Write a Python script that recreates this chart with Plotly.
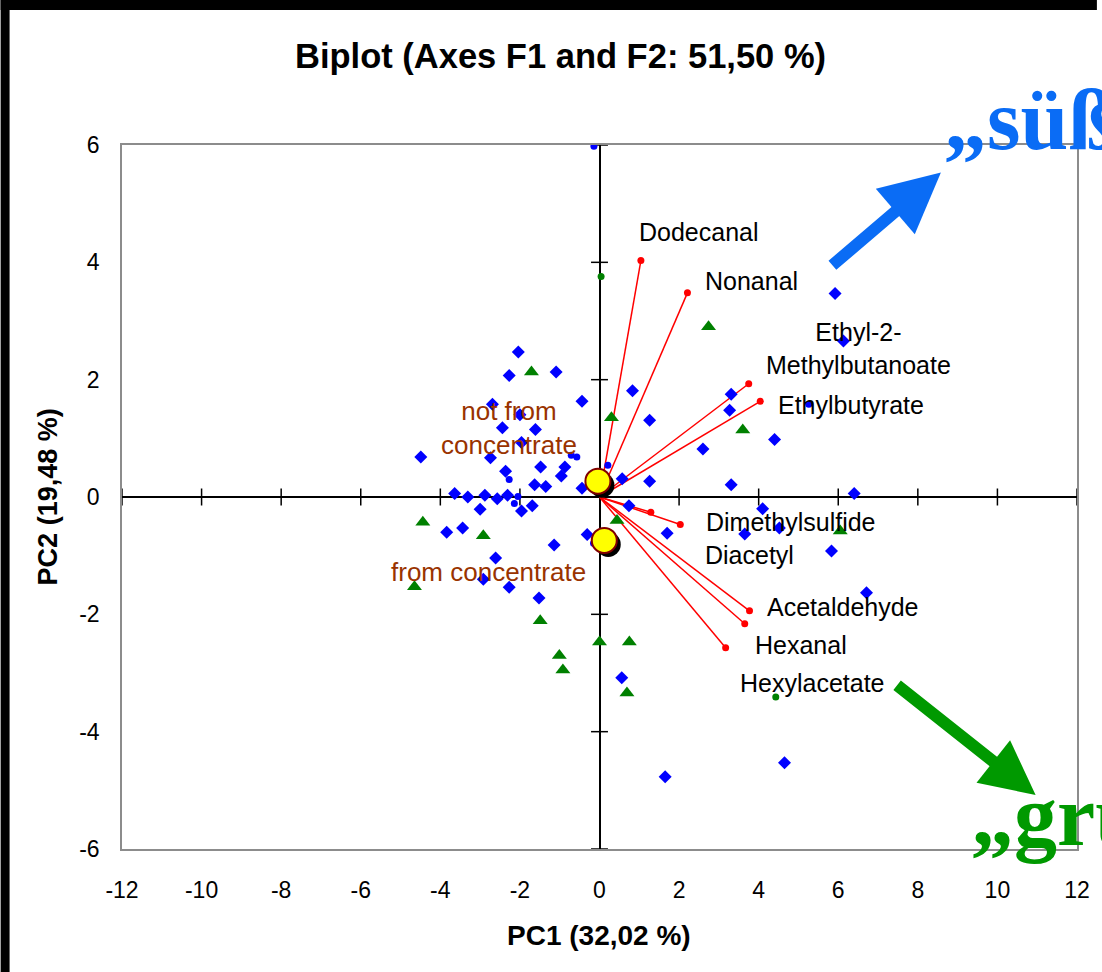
import plotly.graph_objects as go

# ---------------- data ----------------
obs_diamond_x = [-2.04, -2.27, -1.09, -0.44, -2.69, -2.00, -2.44, -1.61, -1.96, -4.49,
                 -2.74, -2.36, -1.48, -0.87, -0.96, -1.63, -1.35, -0.44, 0.57, 1.26,
                 0.83, 1.26, 2.60, 3.31, 3.31, 3.27, 4.40, 5.92, 6.13, 6.40,
                 4.10, 3.65, 4.52, 5.83, 6.71, 1.70, 0.74, -3.64, -3.31, -2.88,
                 -2.57, -2.31, -3.00, -1.96, -1.69, -3.84, -3.44, -1.14, -0.31, -2.61,
                 -2.92, -2.27, -1.52, 0.56, 1.65, 4.65]
obs_diamond_y = [2.47, 2.07, 2.13, 1.63, 1.58, 1.40, 1.18, 1.15, 0.93, 0.68,
                 0.67, 0.44, 0.51, 0.51, 0.36, 0.21, 0.18, 0.15, 0.31, 0.27,
                 1.81, 1.31, 0.82, 0.21, 1.75, 1.48, 0.98, 3.47, 2.66, 0.06,
                 -0.20, -0.63, -0.53, -0.92, -1.63, -0.62, -0.15, 0.06, 0.00, 0.03,
                 -0.03, 0.03, -0.21, -0.24, -0.15, -0.60, -0.53, -0.82, -0.64, -1.04,
                 -1.40, -1.54, -1.72, -3.08, -4.77, -4.53]

obs_dot_x = [-0.14, -0.71, -0.57, -2.27, -2.05, -2.14, 0.21, -0.15, 5.26]
obs_dot_y = [5.98, 0.71, 0.68, 0.30, 0.01, -0.11, 0.54, -0.79, 1.58]

obs_triangle_x = [-1.71, 0.30, 2.74, 3.60, 0.44, 6.05, -4.44, -2.92, -4.65, -1.49,
                  0.00, 0.75, -1.01, -0.92, 0.69]
obs_triangle_y = [2.13, 1.35, 2.90, 1.14, -0.40, -0.58, -0.43, -0.66, -1.53, -2.11,
                  -2.47, -2.47, -2.70, -2.95, -3.34]

green_dot_x = [0.04, 4.43]
green_dot_y = [3.76, -3.41]

variables = ["Dodecanal", "Nonanal", "Ethyl-2-Methylbutanoate", "Ethylbutyrate",
             "Dimethylsulfide", "Diacetyl", "Acetaldehyde", "Hexanal", "Hexylacetate"]
var_x = [1.04, 2.21, 3.75, 4.04, 1.29, 2.03, 3.77, 3.65, 3.17]
var_y = [4.03, 3.48, 1.93, 1.63, -0.26, -0.47, -1.94, -2.16, -2.57]
var_label_text = ["Dodecanal", "Nonanal", "Ethyl-2-<br>Methylbutanoate", "Ethylbutyrate",
                  "Dimethylsulfide", "Diacetyl", "Acetaldehyde", "Hexanal", "Hexylacetate"]
var_label_x = [2.51, 3.83, 6.51, 6.33, 4.81, 3.78, 6.11, 5.06, 5.36]
var_label_y = [4.52, 3.69, 2.53, 1.56, -0.43, -0.99, -1.87, -2.53, -3.17]

groups = ["not from<br>concentrate", "from concentrate"]
centroid_x = [-0.04, 0.12]
centroid_y = [0.27, -0.74]
group_label_x = [-2.27, -2.79]
group_label_y = [1.17, -1.28]

x_ticks = [-12, -10, -8, -6, -4, -2, 0, 2, 4, 6, 8, 10, 12]
y_ticks = [-6, -4, -2, 0, 2, 4, 6]

# ---------------- layout geometry ----------------
W, H = 1102, 972
ML, MR, MT, MB = 122, 20, 145, 123
PW, PH = W - ML - MR, H - MT - MB
XR, YR = [-12, 12], [-6, 6]
px_x = (XR[1] - XR[0]) / PW   # data units per pixel
px_y = (YR[1] - YR[0]) / PH


def paper_x(px):
    return (px - ML) / PW


def paper_y(py):
    return (H - MB - py) / PH


FONT = "Liberation Sans, Arial, sans-serif"
SERIF = "Liberation Serif, Times New Roman, serif"

fig = go.Figure()

# tick marks across the centre axes
tx, ty = [], []
hy = 8.5 * px_y
hx = 8.5 * px_x
for t in x_ticks:
    if t != 0:
        tx += [t, t, None]
        ty += [-hy, hy, None]
for t in y_ticks:
    if t != 0:
        tx += [-hx, hx, None]
        ty += [t, t, None]
fig.add_trace(go.Scatter(x=tx, y=ty, mode="lines", line=dict(color="black", width=1.5),
                         hoverinfo="skip", showlegend=False, cliponaxis=False))

# variable vectors
vx, vy = [], []
for x, y in zip(var_x, var_y):
    vx += [0, x, None]
    vy += [0, y, None]
fig.add_trace(go.Scatter(x=vx, y=vy, mode="lines", line=dict(color="#FF0000", width=1.5),
                         hoverinfo="skip", showlegend=False))
fig.add_trace(go.Scatter(x=var_x, y=var_y, mode="markers", text=variables,
                         marker=dict(color="#FF0000", size=7), showlegend=False))

# observations
fig.add_trace(go.Scatter(x=obs_diamond_x, y=obs_diamond_y, mode="markers",
                         marker=dict(symbol="diamond", color="#0000FF", size=10),
                         showlegend=False))
fig.add_trace(go.Scatter(x=obs_dot_x, y=obs_dot_y, mode="markers",
                         marker=dict(symbol="circle", color="#0000FF", size=7),
                         showlegend=False))
fig.add_trace(go.Scatter(x=obs_triangle_x, y=obs_triangle_y, mode="markers",
                         marker=dict(symbol="triangle-up", color="#008000", size=13),
                         showlegend=False))
fig.add_trace(go.Scatter(x=green_dot_x, y=green_dot_y, mode="markers",
                         marker=dict(symbol="circle", color="#008000", size=7),
                         showlegend=False))

# group centroids with shadow
fig.add_trace(go.Scatter(x=[x + 4 * px_x for x in centroid_x],
                         y=[y - 4 * px_y for y in centroid_y], mode="markers",
                         marker=dict(color="black", size=25, line=dict(width=0)),
                         hoverinfo="skip", showlegend=False))
fig.add_trace(go.Scatter(x=centroid_x, y=centroid_y, mode="markers",
                         marker=dict(color="#FFFF00", size=25,
                                     line=dict(color="#800000", width=2)),
                         showlegend=False))

annotations = []
for t, x, y in zip(var_label_text, var_label_x, var_label_y):
    annotations.append(dict(x=x, y=y, xref="x", yref="y", text=t, showarrow=False,
                            font=dict(family=FONT, size=25, color="black"),
                            xanchor="center", yanchor="middle"))
for t, x, y in zip(groups, group_label_x, group_label_y):
    annotations.append(dict(x=x, y=y, xref="x", yref="y", text=t, showarrow=False,
                            font=dict(family=FONT, size=26, color="#993300"),
                            xanchor="center", yanchor="middle"))

# big direction arrows
annotations.append(dict(x=8.58, y=5.53, xref="x", yref="y", ax=-110, ay=94, text="",
                        showarrow=True, arrowhead=2, arrowsize=1, arrowwidth=12,
                        arrowcolor="#0A6CF5"))
annotations.append(dict(x=10.96, y=-5.08, xref="x", yref="y", ax=-140, ay=-111, text="",
                        showarrow=True, arrowhead=2, arrowsize=0.9, arrowwidth=12,
                        arrowcolor="#009900"))
annotations.append(dict(x=paper_x(946), y=paper_y(120), xref="paper", yref="paper",
                        text="<b>„süß“</b>", showarrow=False, xanchor="left", yanchor="middle",
                        font=dict(family=SERIF, size=86, color="#0A6CF5")))
annotations.append(dict(x=paper_x(973), y=paper_y(816), xref="paper", yref="paper",
                        text="<b>„grün“</b>", showarrow=False, xanchor="left", yanchor="middle",
                        font=dict(family=SERIF, size=86, color="#009900")))

# titles
annotations.append(dict(x=paper_x(563), y=paper_y(56), xref="paper", yref="paper",
                        text="<b>Biplot (Axes F1 and F2: 51,50 %)</b>", showarrow=False,
                        xanchor="center", yanchor="middle",
                        font=dict(family=FONT, size=34.5, color="black")))
annotations.append(dict(x=paper_x(601), y=paper_y(935), xref="paper", yref="paper",
                        text="<b>PC1 (32,02 %)</b>", showarrow=False,
                        xanchor="center", yanchor="middle",
                        font=dict(family=FONT, size=28, color="black")))
annotations.append(dict(x=paper_x(48), y=paper_y(497), xref="paper", yref="paper",
                        text="<b>PC2 (19,48 %)</b>", showarrow=False, textangle=-90,
                        xanchor="center", yanchor="middle",
                        font=dict(family=FONT, size=27, color="black")))

# black frame strips of the original screenshot
shapes = [
    dict(type="rect", xref="paper", yref="paper", x0=paper_x(0), x1=paper_x(9),
         y0=paper_y(H), y1=paper_y(0), fillcolor="black", line=dict(width=0), layer="above"),
    dict(type="rect", xref="paper", yref="paper", x0=paper_x(0), x1=paper_x(W),
         y0=paper_y(10), y1=paper_y(0), fillcolor="black", line=dict(width=0), layer="above"),
]

fig.update_layout(
    width=W, height=H, autosize=False,
    margin=dict(l=ML, r=MR, t=MT, b=MB, pad=0),
    plot_bgcolor="white", paper_bgcolor="white",
    showlegend=False,
    annotations=annotations, shapes=shapes,
    font=dict(family=FONT, color="black"),
)
fig.update_xaxes(range=XR, tickvals=x_ticks, ticktext=[str(t) for t in x_ticks],
                 showgrid=False, zeroline=True, zerolinecolor="black", zerolinewidth=1.5,
                 showline=True, linecolor="#8C8C8C", linewidth=1.5, mirror=True,
                 ticks="", ticklabelstandoff=20, tickfont=dict(size=23, family=FONT, color="black"))
fig.update_yaxes(range=YR, tickvals=y_ticks, ticktext=[str(t) for t in y_ticks],
                 showgrid=False, zeroline=True, zerolinecolor="black", zerolinewidth=1.5,
                 showline=True, linecolor="#8C8C8C", linewidth=1.5, mirror=True,
                 ticks="", ticklabelstandoff=16, tickfont=dict(size=23, family=FONT, color="black"))

fig.write_html("out.html", config={"displayModeBar": False},
               post_script="document.body.style.margin='0';")
